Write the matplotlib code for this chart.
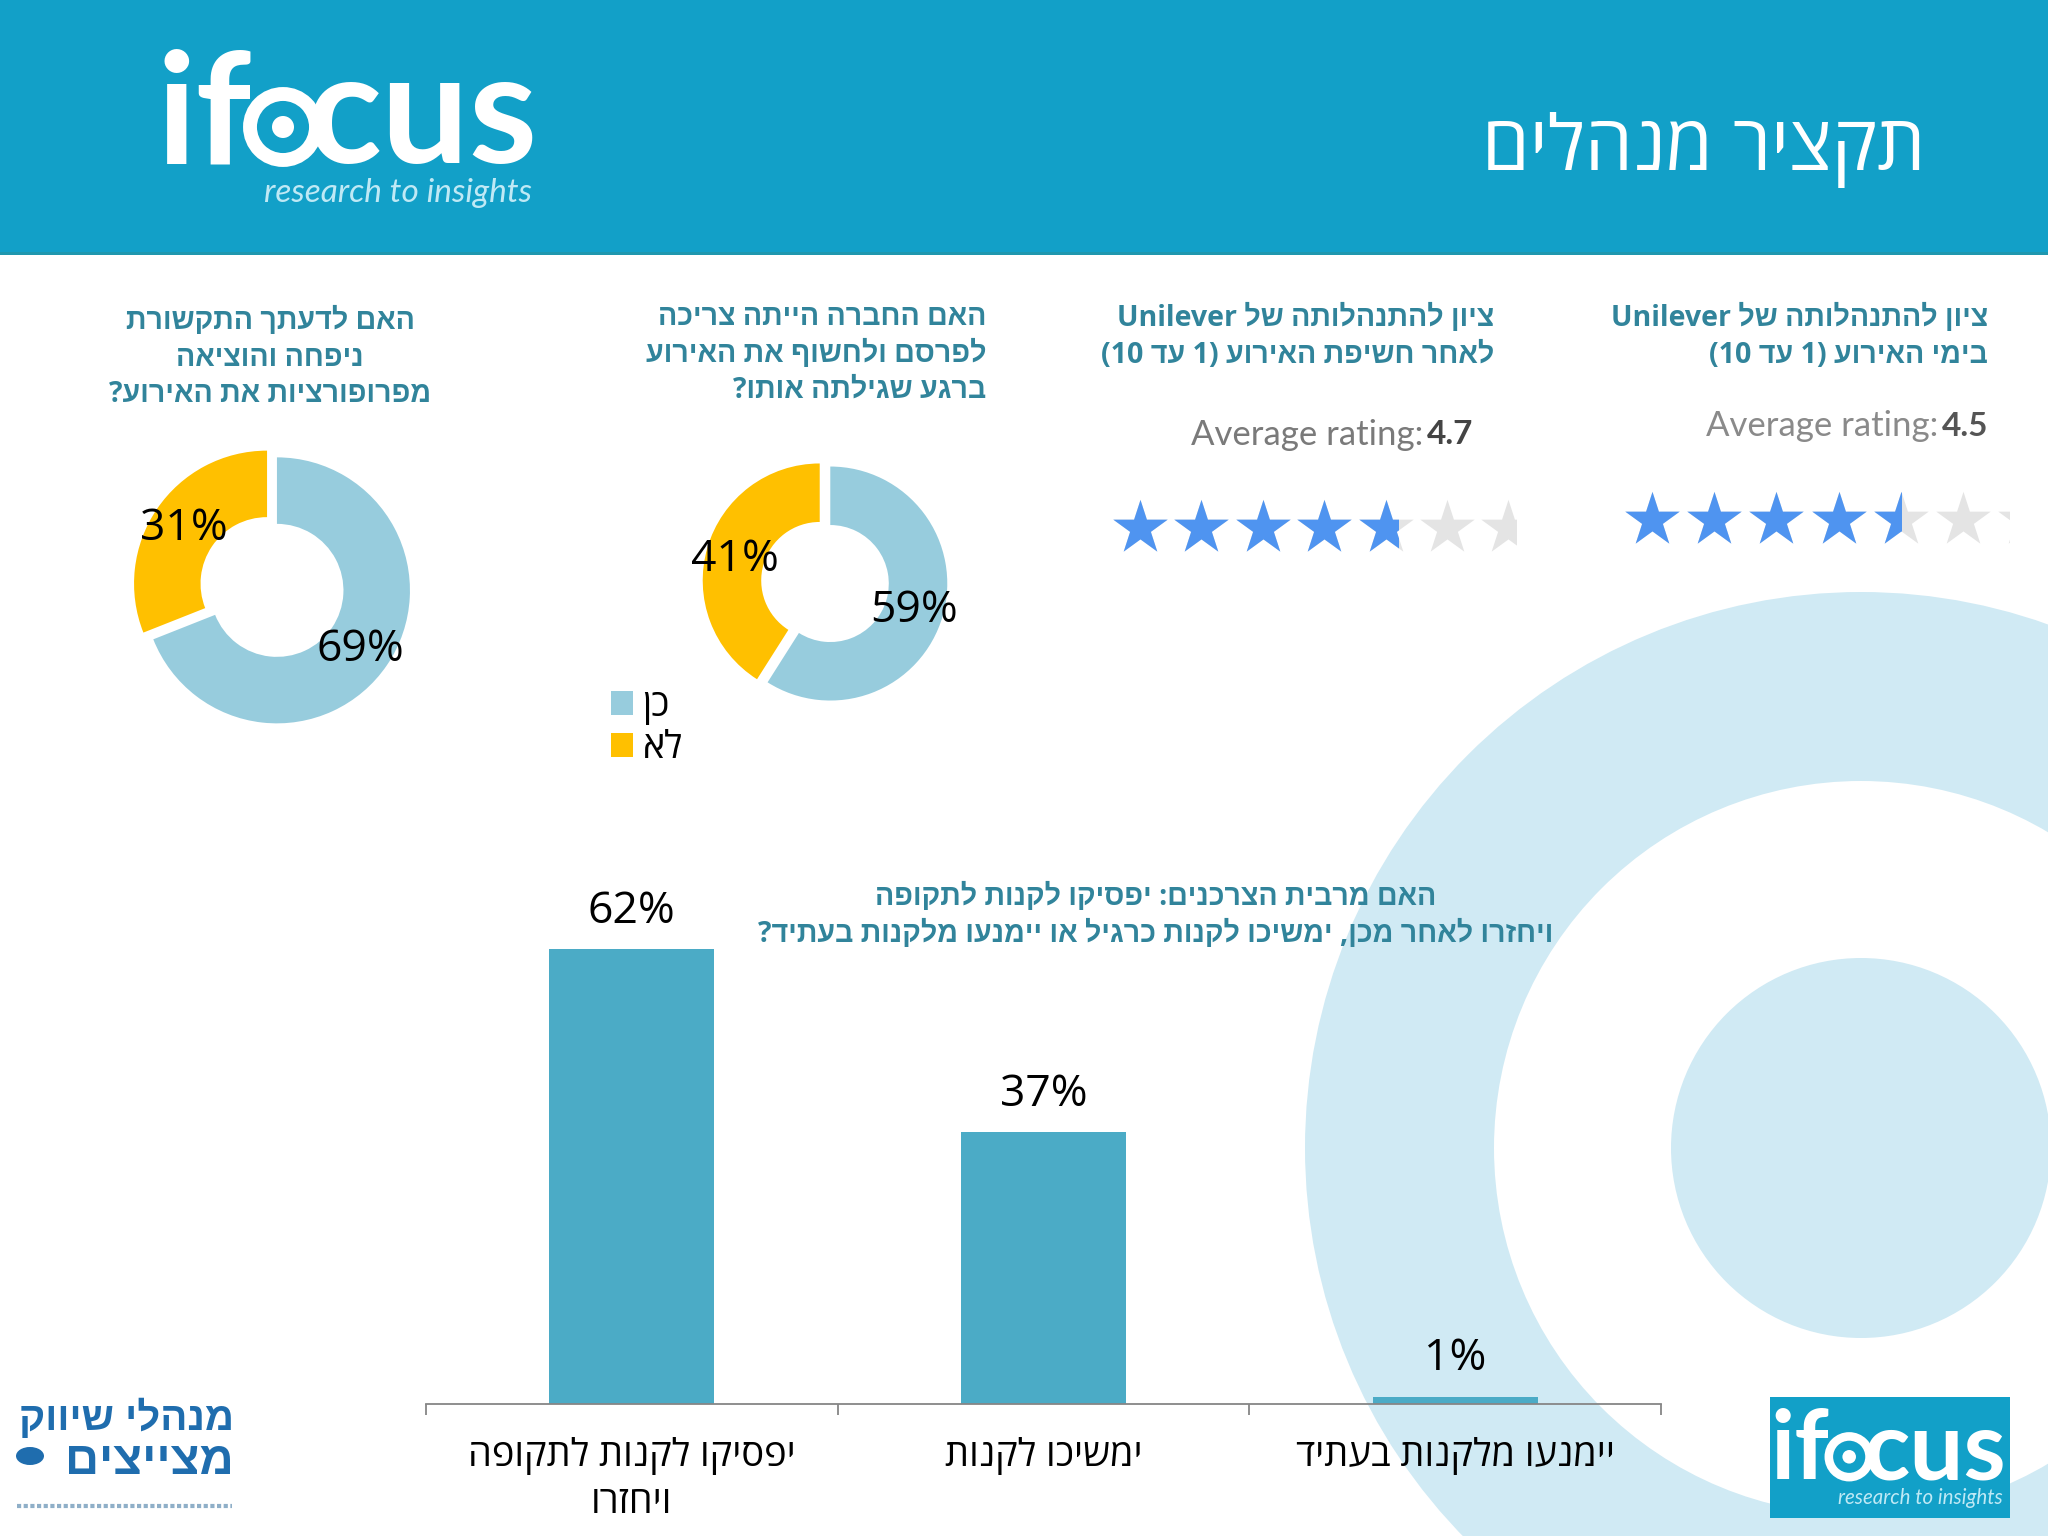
import re
import matplotlib
matplotlib.use("Agg")
import matplotlib.pyplot as plt
from matplotlib.patches import Rectangle, Circle, Ellipse

W, H = 2048, 1536

# data
pie_labels = ["כן", "לא"]
pie1_values = [69, 31]
pie2_values = [59, 41]
rating_during = 4.5
rating_after = 4.7
bar_categories = ["יפסיקו לקנות לתקופה\nויחזרו", "ימשיכו לקנות", "יימנעו מלקנות בעתיד"]
bar_values = [62, 37, 1]

title_text = "תקציר מנהלים"
q1_text = "האם לדעתך התקשורת\nניפחה והוציאה\nמפרופורציות את האירוע?"
q2_text = "האם החברה הייתה צריכה\nלפרסם ולחשוף את האירוע\nברגע שגילתה אותו?"
q3_text = "האם מרבית הצרכנים: יפסיקו לקנות לתקופה\nויחזרו לאחר מכן, ימשיכו לקנות כרגיל או יימנעו מלקנות בעתיד?"
r1_text = "ציון להתנהלותה של Unilever\nבימי האירוע (1 עד 10)"
r2_text = "ציון להתנהלותה של Unilever\nלאחר חשיפת האירוע (1 עד 10)"

HEADER = "#12A0C8"
LIGHT = "#D0EAF4"
PIE_BLUE = "#97CCDD"
YELLOW = "#FFC000"
BAR = "#4BABC6"
TEAL = "#31849B"
FONT = ["Open Sans", "Liberation Sans", "DejaVu Sans"]

plt.rcParams["font.family"] = FONT


def rtl(s):
    # matplotlib has no bidi, so put the Hebrew in visual order by hand
    mirror = str.maketrans("()", ")(")
    lines = []
    for line in s.split("\n"):
        parts = re.split(r"([A-Za-z0-9]+)", line)
        out = ""
        for p in reversed(parts):
            if re.fullmatch(r"[A-Za-z0-9]+", p):
                out += p
            else:
                out += p[::-1].translate(mirror)
        lines.append(out)
    return "\n".join(lines)


def px_axes(l, t, r, b, **kw):
    return fig.add_axes([l / W, 1 - b / H, (r - l) / W, (b - t) / H], **kw)


def txt(x, y, s, **kw):
    kw.setdefault("va", "center")
    return fig.text(x / W, 1 - y / H, s, **kw)


fig = plt.figure(figsize=(W / 100, H / 100), dpi=100, facecolor="white")

# background, pixel coords
bg = fig.add_axes([0, 0, 1, 1], zorder=-1)
bg.set_xlim(0, W)
bg.set_ylim(H, 0)
bg.axis("off")
bg.add_patch(Circle((1861, 1148), 556, color=LIGHT, lw=0))
bg.add_patch(Circle((1861, 1148), 367, color="white", lw=0))
bg.add_patch(Circle((1861, 1148), 190, color=LIGHT, lw=0))
bg.add_patch(Rectangle((0, 0), W, 252, color=HEADER, lw=0))
bg.add_patch(Rectangle((0, 252), W, 3, color="#1F97AE", lw=0))


def draw_logo(x, base, k):
    # wordmark: "if", target shaped o, "cus"
    txt(x - 10 * k, base, "if", color="white", family="Lato", fontweight="bold",
        fontsize=112 * k, va="baseline")
    bg.add_patch(Circle((x + 117 * k, base - 36 * k), 33 * k, fc="none", ec="white", lw=10 * k))
    bg.add_patch(Circle((x + 117 * k, base - 36 * k), 11 * k, color="white", lw=0))
    txt(x + 372 * k, base, "cus", color="white", family="Lato", fontweight="bold",
        fontsize=112 * k, va="baseline", ha="right")
    txt(x + 366 * k, base + 30 * k, "research to insights", color="#BFE9F5", family="Lato",
        style="italic", fontsize=24 * k, ha="right")


draw_logo(166, 163, 1)
bg.add_patch(Rectangle((1770, 1397), 240, 121, color=HEADER, lw=0))
draw_logo(1777, 1479, 0.617)

txt(1926, 150, rtl(title_text), color="white", fontsize=55, ha="right")

# question titles
q_style = dict(color=TEAL, fontweight="bold", fontsize=20.6, linespacing=1.33)
txt(270, 358, rtl(q1_text), ha="center", multialignment="center", **q_style)
txt(986, 354, rtl(q2_text), ha="right", multialignment="right", **q_style)
txt(1494, 337, rtl(r2_text), ha="right", multialignment="right", **q_style)
txt(1988, 337, rtl(r1_text), ha="right", multialignment="right", **q_style)
txt(1156, 916, rtl(q3_text), ha="center", multialignment="center", **q_style)


# donuts
def donut(values, cx, cy, r, expl):
    m = 1.12
    ax = px_axes(cx - m * r, cy - m * r, cx + m * r, cy + m * r)
    wedges, _ = ax.pie(values, colors=[PIE_BLUE, YELLOW], startangle=90, counterclock=False,
                       explode=[expl, expl], wedgeprops=dict(width=0.5, lw=0))
    ax.set_xlim(-m, m)
    ax.set_ylim(-m, m)
    return wedges


donut(pie1_values, 272, 587, 133, 0.045)
wedges = donut(pie2_values, 825, 582, 117, 0.047)

pct_style = dict(color="black", fontsize=32, ha="center")
txt(360, 650, f"{pie1_values[0]}%", **pct_style)
txt(184, 529, f"{pie1_values[1]}%", **pct_style)
txt(914, 611, f"{pie2_values[0]}%", **pct_style)
txt(735, 560, f"{pie2_values[1]}%", **pct_style)

fig.legend(wedges, [rtl(p) for p in pie_labels], loc="upper left",
           bbox_to_anchor=(611 / W, 1 - 687 / H), frameon=False, fontsize=27,
           handlelength=0.59, handleheight=0.59, handletextpad=0.25, labelspacing=0.12,
           borderpad=0, borderaxespad=0)


# star ratings
def stars(rating, first, step, right, cy):
    left = first - 30
    ax = px_axes(left, cy - 40, right, cy + 40)
    ax.set_xlim(1 - (first - left) / step, 1 + (right - first) / step)
    ax.set_ylim(-1, 1)
    ax.axis("off")
    xs = [1, 2, 3, 4, 5, 6, 7]
    ys = [0] * 7
    ax.scatter(xs, ys, marker="*", s=1700, color="#E4E4E4", linewidths=0)
    top = ax.scatter(xs, ys, marker="*", s=1700, color="#4F94F0", linewidths=0)
    top.set_clip_path(Rectangle((0, -1), rating + 0.5, 2, transform=ax.transData))


stars(rating_after, 1140, 61.4, 1516, 528)
stars(rating_during, 1652, 62.2, 2009, 520)

value_style = dict(family="Lato", fontsize=24, ha="right", fontweight="bold")
label_style = dict(family="Lato", fontsize=25, ha="right")
txt(1473, 435, str(rating_after), color="#444444", **value_style)
txt(1423, 435, "Average rating:", color="#7A7A7A", **label_style)
txt(1988, 426, str(rating_during), color="#555555", **value_style)
txt(1938, 426, "Average rating:", color="#8A8A8A", **label_style)

# bars
ax = px_axes(426, 949, 1661, 1404, facecolor="none")
positions = range(len(bar_values))
bars = ax.bar(positions, bar_values, width=0.4, color=BAR)
ax.bar_label(bars, labels=[f"{v}%" for v in bar_values], padding=11, fontsize=32, color="black")
ax.set_xlim(-0.5, 2.5)
ax.set_ylim(0, 62)
for side in ["top", "left", "right"]:
    ax.spines[side].set_visible(False)
ax.spines["bottom"].set_color("#868686")
ax.spines["bottom"].set_linewidth(1.3)
ax.yaxis.set_visible(False)
ax.set_xticks([-0.5, 0.5, 1.5, 2.5])
ax.set_xticklabels([])
ax.tick_params(axis="x", which="major", length=8, width=1.3, color="#868686")
ax.set_xticks(list(positions), minor=True)
ax.set_xticklabels([rtl(c) for c in bar_categories], minor=True, fontsize=27.4, color="black",
                   linespacing=1.3)
ax.tick_params(axis="x", which="minor", length=0, pad=24)

# left bottom logo
LOGO_BLUE = "#1F6DAE"
logo_font = ["Liberation Sans", "DejaVu Sans"]
txt(234, 1418, rtl("מנהלי שיווק"), color=LOGO_BLUE, fontweight="bold", family=logo_font,
    fontsize=29, ha="right")
txt(234, 1462, rtl("מצייצים"), color=LOGO_BLUE, fontweight="bold", family=logo_font,
    fontsize=34, ha="right")
bg.add_patch(Ellipse((30, 1456), 28, 18, color=LOGO_BLUE, lw=0))
# caption under this logo is too blurred to read
bg.plot([17, 232], [1506, 1506], color="#8FAFC8", lw=3, ls=(0, (1, 0.6)))

fig.savefig("out.png", dpi=100)
